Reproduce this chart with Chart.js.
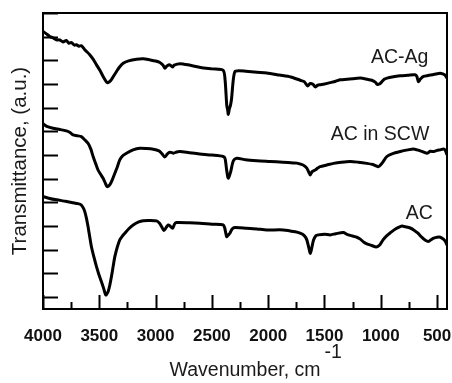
<!DOCTYPE html>
<html>
<head>
<meta charset="utf-8">
<script src="https://cdn.jsdelivr.net/npm/chart.js@4.4.1/dist/chart.umd.min.js"></script>
<style>
	html, body { margin: 0; padding: 0; background: #fff; }
	#ftir-chart { display: block; }
</style>
</head>
<body>
<canvas id="ftir-chart" width="452" height="383"></canvas>
<script>
// wavenumbers (cm-1) and transmittance (a.u., offset)
var agWavenumbers = [ 4000, 3970, 3940, 3910, 3881, 3850, 3822, 3792, 3770, 3747, 3720, 3703, 3680, 3658, 3629, 3585, 3555, 3525, 3495, 3466, 3445, 3431, 3410, 3391, 3370, 3347, 3320, 3288, 3240, 3169, 3110, 3051, 3000, 2962, 2935, 2917, 2900, 2872, 2850, 2835, 2783, 2700, 2600, 2500, 2400, 2383, 2368, 2360, 2354, 2345, 2335, 2325, 2310, 2295, 2260, 2200, 2100, 2013, 1900, 1800, 1716, 1680, 1650, 1627, 1600, 1583, 1560, 1538, 1500, 1449, 1400, 1360, 1300, 1250, 1182, 1120, 1080, 1049, 1030, 1013, 990, 970, 945, 900, 828, 760, 695, 680, 666, 650, 621, 580, 530, 472, 450, 430, 412 ];
var agValues = [ 11.72, 11.62, 11.51, 11.45, 11.37, 11.36, 11.28, 11.34, 11.22, 11.25, 11.14, 11.16, 11.10, 11.12, 10.95, 10.74, 10.55, 10.31, 10.08, 9.82, 9.65, 9.56, 9.60, 9.70, 9.86, 10.03, 10.22, 10.38, 10.48, 10.55, 10.57, 10.52, 10.47, 10.41, 10.30, 10.17, 10.26, 10.31, 10.22, 10.30, 10.36, 10.30, 10.20, 10.14, 10.08, 9.68, 8.60, 8.40, 8.22, 8.45, 8.60, 8.90, 9.68, 10.03, 10.06, 10.04, 10.00, 9.97, 9.88, 9.80, 9.66, 9.60, 9.42, 9.52, 9.48, 9.38, 9.45, 9.47, 9.50, 9.56, 9.62, 9.68, 9.70, 9.72, 9.75, 9.70, 9.66, 9.58, 9.48, 9.50, 9.60, 9.70, 9.75, 9.80, 9.85, 9.87, 9.89, 9.82, 9.60, 9.70, 9.82, 9.86, 9.90, 9.96, 9.93, 9.88, 9.75 ];

var scwWavenumbers = [ 4000, 3960, 3911, 3850, 3792, 3760, 3733, 3700, 3659, 3630, 3600, 3575, 3555, 3533, 3511, 3490, 3466, 3445, 3431, 3407, 3385, 3362, 3340, 3318, 3290, 3259, 3200, 3140, 3080, 3021, 2970, 2947, 2918, 2895, 2873, 2840, 2814, 2784, 2700, 2607, 2500, 2400, 2383, 2370, 2360, 2354, 2345, 2333, 2310, 2280, 2200, 2100, 1983, 1870, 1776, 1745, 1690, 1657, 1640, 1627, 1610, 1583, 1560, 1539, 1480, 1420, 1350, 1272, 1200, 1124, 1070, 1050, 1020, 990, 946, 900, 827, 760, 709, 650, 590, 560, 530, 500, 471, 441, 425, 412 ];
var scwValues = [ 7.82, 7.70, 7.63, 7.58, 7.52, 7.45, 7.35, 7.32, 7.28, 7.15, 7.00, 6.75, 6.44, 6.15, 5.87, 5.70, 5.52, 5.30, 5.17, 5.24, 5.45, 5.73, 6.00, 6.30, 6.48, 6.58, 6.72, 6.79, 6.78, 6.75, 6.68, 6.58, 6.42, 6.55, 6.62, 6.58, 6.63, 6.65, 6.60, 6.55, 6.50, 6.44, 6.35, 5.90, 5.60, 5.52, 5.62, 5.80, 6.25, 6.37, 6.30, 6.26, 6.23, 6.20, 6.17, 6.16, 6.08, 5.95, 5.78, 5.66, 5.80, 5.87, 5.95, 6.01, 6.08, 6.15, 6.20, 6.23, 6.20, 6.15, 6.10, 6.06, 6.01, 6.15, 6.44, 6.55, 6.65, 6.72, 6.76, 6.68, 6.58, 6.66, 6.65, 6.70, 6.72, 6.76, 6.68, 6.51 ];

var acWavenumbers = [ 4000, 3950, 3881, 3800, 3733, 3690, 3659, 3640, 3629, 3615, 3600, 3585, 3570, 3548, 3525, 3503, 3481, 3460, 3442, 3422, 3407, 3392, 3377, 3362, 3340, 3318, 3295, 3273, 3240, 3199, 3150, 3110, 3050, 2992, 2965, 2947, 2926, 2905, 2888, 2870, 2850, 2830, 2814, 2700, 2607, 2500, 2399, 2385, 2369, 2355, 2340, 2320, 2295, 2191, 2100, 2013, 1865, 1760, 1717, 1680, 1657, 1640, 1625, 1610, 1598, 1575, 1554, 1500, 1449, 1400, 1332, 1301, 1250, 1213, 1182, 1150, 1124, 1080, 1040, 1010, 980, 946, 915, 870, 827, 811, 780, 739, 708, 670, 640, 604, 576, 555, 530, 500, 471, 441, 425, 412 ];
var acValues = [ 4.75, 4.68, 4.61, 4.55, 4.49, 4.45, 4.39, 4.25, 4.11, 3.85, 3.48, 3.05, 2.63, 2.20, 1.79, 1.45, 1.15, 0.85, 0.59, 0.73, 1.00, 1.37, 1.80, 2.21, 2.62, 2.92, 3.08, 3.20, 3.38, 3.55, 3.68, 3.73, 3.74, 3.72, 3.62, 3.48, 3.31, 3.45, 3.55, 3.50, 3.41, 3.60, 3.65, 3.64, 3.62, 3.58, 3.55, 3.40, 3.06, 3.12, 3.20, 3.38, 3.44, 3.41, 3.38, 3.34, 3.34, 3.26, 3.20, 3.10, 2.92, 2.60, 2.35, 2.65, 2.90, 3.10, 3.13, 3.16, 3.13, 3.18, 3.23, 3.15, 3.08, 3.03, 2.95, 2.82, 2.75, 2.68, 2.62, 2.70, 2.92, 3.10, 3.22, 3.38, 3.48, 3.50, 3.47, 3.42, 3.34, 3.20, 3.05, 2.90, 2.85, 2.92, 2.99, 3.03, 3.03, 2.94, 2.84, 2.70 ];

// axis ticks
var xTicks = [ 500, 750, 1000, 1250, 1500, 1750, 2000, 2250, 2500, 2750, 3000, 3250, 3500, 3750, 4000 ];
var yTicks = [ 0.5, 1.5, 2.5, 3.5, 4.5, 5.5, 6.5, 7.5, 8.5, 9.5, 10.5, 11.5, 12.5 ];

// curve labels: text, wavenumber, value
var curveLabels = [ 'AC-Ag', 'AC in SCW', 'AC' ];
var labelWavenumbers = [ 833, 1007, 659 ];
var labelValues = [ 10.6, 7.35, 4.04 ];

var fontFamily = "'Liberation Sans', Arial, Helvetica, sans-serif";

( function() {

	/**
	 * Build xy points from two arrays.
	 */
	function toPoints( xs, ys ) {
		return xs.map( function( x, i ) {
			return { x: x, y: ys[i] };
		} );
	}

	/**
	 * Make a black spectrum dataset.
	 */
	function spectrum( label, xs, ys ) {
		return {
			label: label,
			data: toPoints( xs, ys ),
			borderColor: '#000',
			borderWidth: 3,
			pointRadius: 0,
			tension: 0.25,
			fill: false
		};
	}

	/**
	 * Frame, inward ticks, curve labels and the -1 exponent.
	 */
	var framePlugin = {
		id: 'ftirFrame',
		afterDatasetsDraw: function( chart ) {
			var ctx = chart.ctx;
			var area = chart.chartArea;
			var x = chart.scales.x;
			var y = chart.scales.y;

			ctx.save();
			ctx.strokeStyle = '#000';
			ctx.lineWidth = 2;

			// bottom ticks, long on every 500
			xTicks.forEach( function( v ) {
				var px = Math.round( x.getPixelForValue( v ) ) + 0.5;
				var len = v % 500 === 0 ? 14 : 7;

				ctx.beginPath();
				ctx.moveTo( px, area.bottom );
				ctx.lineTo( px, area.bottom - len );
				ctx.stroke();
			} );

			// left ticks
			yTicks.forEach( function( v ) {
				var py = Math.round( y.getPixelForValue( v ) ) + 0.5;

				ctx.beginPath();
				ctx.moveTo( area.left, py );
				ctx.lineTo( area.left + 15, py );
				ctx.stroke();
			} );

			ctx.strokeRect( area.left, area.top, area.right - area.left, area.bottom - area.top );

			// curve names
			ctx.fillStyle = '#1a1a1a';
			ctx.font = '19.5px ' + fontFamily;
			ctx.textAlign = 'center';
			ctx.textBaseline = 'middle';
			curveLabels.forEach( function( text, i ) {
				ctx.fillText( text, x.getPixelForValue( labelWavenumbers[i] ), y.getPixelForValue( labelValues[i] ) );
			} );

			// exponent of the axis title
			ctx.font = '19.5px ' + fontFamily;
			var titleWidth = ctx.measureText( x.options.title.text ).width;
			ctx.textAlign = 'left';
			ctx.fillText( '-1', ( area.left + area.right ) / 2 + titleWidth / 2 + 4, 353 );

			ctx.restore();
		}
	};

	var config = {
		type: 'line',
		data: {
			datasets: [
				spectrum( 'AC-Ag', agWavenumbers, agValues ),
				spectrum( 'AC in SCW', scwWavenumbers, scwValues ),
				spectrum( 'AC', acWavenumbers, acValues )
			]
		},
		options: {
			responsive: false,
			animation: false,
			devicePixelRatio: 1,
			layout: {
				padding: { top: 13, right: 5, bottom: 0, left: 0 }
			},
			plugins: {
				legend: { display: false },
				tooltip: { enabled: false }
			},
			scales: {
				x: {
					type: 'linear',
					reverse: true,
					min: 412,
					max: 4000,
					afterBuildTicks: function( scale ) {
						scale.ticks = xTicks.map( function( v ) {
							return { value: v };
						} );
					},
					afterFit: function( scale ) {
						scale.height = 74;
					},
					grid: { display: false },
					border: { display: false },
					ticks: {
						autoSkip: false,
						maxRotation: 0,
						padding: 9,
						color: '#111',
						font: { family: fontFamily, size: 17, weight: 'bold' },
						callback: function( v ) {
							return v % 500 === 0 ? String( v ) : '';
						}
					},
					title: {
						display: true,
						text: 'Wavenumber, cm',
						color: '#1a1a1a',
						padding: { top: 0, bottom: 1 },
						font: { family: fontFamily, size: 19.5 }
					}
				},
				y: {
					min: 0,
					max: 12.5,
					afterBuildTicks: function( scale ) {
						scale.ticks = yTicks.map( function( v ) {
							return { value: v };
						} );
					},
					afterFit: function( scale ) {
						scale.width = 43;
					},
					grid: { display: false },
					border: { display: false },
					ticks: { display: false },
					title: {
						display: true,
						text: 'Transmittance, (a.u.)',
						color: '#1a1a1a',
						padding: { top: 8, bottom: 0 },
						font: { family: fontFamily, size: 20.5 }
					}
				}
			}
		},
		plugins: [ framePlugin ]
	};

	window.ftirChart = new Chart( document.getElementById( 'ftir-chart' ).getContext( '2d' ), config );

} )();
</script>
</body>
</html>
